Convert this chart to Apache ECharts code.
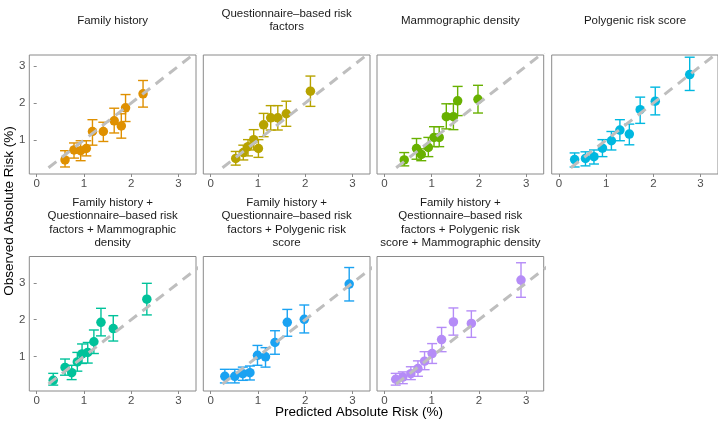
<!DOCTYPE html>
<html><head><meta charset="utf-8">
<script src="https://cdn.jsdelivr.net/npm/echarts@6/dist/echarts.min.js"></script>
<style>html,body{margin:0;padding:0;background:#fff}#c{width:718px;height:425px}</style>
</head><body><div id="c"></div>
<script>
// Panel titles
const panelTitles = [
  "Family history",
  "Questionnaire\u2013based risk\nfactors",
  "Mammographic density",
  "Polygenic risk score",
  "Family history +\nQuestionnaire\u2013based risk\nfactors + Mammographic\ndensity",
  "Family history +\nQuestionnaire\u2013based risk\nfactors + Polygenic risk\nscore",
  "Family history +\nQestionnaire\u2013based risk\nfactors + Polygenic risk\nscore + Mammographic density"
];
const panelColors = ["#DF9000","#B7A300","#68B100","#00B8E0","#00C29A","#1AA2F2","#B58CF7"];

// Family history
const p1Pred = [0.60,0.79,0.93,1.05,1.18,1.41,1.64,1.79,1.88,2.25];
const p1Obs  = [0.46,0.73,0.71,0.77,1.23,1.23,1.52,1.38,1.87,2.25];
const p1Lo   = [0.27,0.51,0.44,0.57,0.86,0.96,1.19,1.05,1.50,1.89];
const p1Hi   = [0.71,0.92,0.98,0.98,1.55,1.48,1.86,1.71,2.23,2.61];
// Questionnaire-based risk factors
const p2Pred = [0.53,0.69,0.79,0.91,1.01,1.12,1.27,1.42,1.60,2.11];
const p2Obs  = [0.50,0.66,0.82,1.01,0.77,1.41,1.60,1.60,1.71,2.32];
const p2Lo   = [0.32,0.46,0.57,0.73,0.53,1.09,1.27,1.27,1.37,1.91];
const p2Hi   = [0.69,0.86,1.01,1.28,1.01,1.72,1.93,1.93,2.05,2.73];
// Mammographic density
const p3Pred = [0.42,0.68,0.78,0.93,1.05,1.16,1.31,1.46,1.55,1.98];
const p3Obs  = [0.46,0.77,0.61,0.80,1.07,1.07,1.63,1.63,2.06,2.10];
const p3Lo   = [0.30,0.48,0.44,0.55,0.82,0.82,1.30,1.28,1.66,1.73];
const p3Hi   = [0.66,1.04,0.76,1.07,1.36,1.36,1.98,1.98,2.45,2.48];
// Polygenic risk score
const p4Pred = [0.33,0.56,0.74,0.92,1.11,1.29,1.49,1.72,2.04,2.77];
const p4Obs  = [0.47,0.50,0.55,0.78,0.98,1.27,1.16,1.82,2.05,2.77];
const p4Lo   = [0.27,0.30,0.35,0.55,0.73,0.98,0.87,1.45,1.68,2.34];
const p4Hi   = [0.65,0.68,0.73,1.01,1.23,1.55,1.43,2.16,2.43,3.24];
// FH + QRF + MD
const p5Pred = [0.35,0.60,0.74,0.86,0.96,1.08,1.21,1.36,1.62,2.33];
const p5Obs  = [0.35,0.70,0.56,0.85,1.07,1.11,1.40,1.93,1.76,2.56];
const p5Lo   = [0.22,0.49,0.37,0.60,0.81,0.82,1.08,1.56,1.42,2.13];
const p5Hi   = [0.54,0.93,0.76,1.11,1.34,1.38,1.72,2.31,2.11,2.99];
// FH + QRF + PRS
const p6Pred = [0.30,0.51,0.68,0.83,0.99,1.16,1.36,1.62,1.98,2.93];
const p6Obs  = [0.46,0.46,0.53,0.56,1.03,0.99,1.38,1.93,2.01,2.97];
const p6Lo   = [0.28,0.28,0.35,0.36,0.76,0.71,1.06,1.55,1.64,2.51];
const p6Hi   = [0.65,0.65,0.71,0.74,1.30,1.24,1.70,2.28,2.40,3.42];
// FH + QRF + PRS + MD
const p7Pred = [0.24,0.39,0.56,0.71,0.85,1.01,1.21,1.46,1.84,2.89];
const p7Obs  = [0.38,0.44,0.53,0.67,0.87,1.08,1.46,1.94,1.90,3.08];
const p7Lo   = [0.22,0.26,0.37,0.46,0.64,0.81,1.13,1.58,1.52,2.61];
const p7Hi   = [0.54,0.58,0.72,0.88,1.13,1.35,1.79,2.32,2.24,3.55];

const xTicks = [0,1,2,3];
const yTicks = [1,2,3];
const diagRange = [0.25, 3.45];

const panels = [
  [p1Pred,p1Obs,p1Lo,p1Hi],[p2Pred,p2Obs,p2Lo,p2Hi],[p3Pred,p3Obs,p3Lo,p3Hi],[p4Pred,p4Obs,p4Lo,p4Hi],
  [p5Pred,p5Obs,p5Lo,p5Hi],[p6Pred,p6Obs,p6Lo,p6Hi],[p7Pred,p7Obs,p7Lo,p7Hi]
];

const lefts = [29.3, 203.3, 377, 551.7];
const panelW = 166.7;
const rowTop = [55, 256.5];
const rowH = [119, 134.5];
const rowYMin = [0.08, 0.06];
const rowYMax = [3.30, 3.72];
const xMin = -0.156, xMax = 3.37;
const titleCY = [20.5, 223];
const titleLH = 13.5;

const grids = [], xAxes = [], yAxes = [], series = [], titles = [];
panels.forEach((p, i) => {
  const row = i < 4 ? 0 : 1;
  const col = i < 4 ? i : i - 4;
  grids.push({left: lefts[col], top: rowTop[row], width: panelW, height: rowH[row],
    show: true, borderColor: '#8a8a8a', borderWidth: 1, backgroundColor: '#fff', containLabel: false});
  xAxes.push({type: 'value', gridIndex: i, min: xMin, max: xMax,
    axisLine: {show: false}, splitLine: {show: false},
    axisTick: {show: true, length: 3, customValues: xTicks, lineStyle: {color: '#8a8a8a'}},
    axisLabel: {show: true, customValues: xTicks, margin: 4, color: '#4D4D4D', fontSize: 11.5,
      fontFamily: 'Liberation Sans, Arial, sans-serif'}});
  yAxes.push({type: 'value', gridIndex: i, min: rowYMin[row], max: rowYMax[row],
    axisLine: {show: false}, splitLine: {show: false},
    axisTick: {show: col === 0, length: 3, customValues: yTicks, lineStyle: {color: '#8a8a8a'}},
    axisLabel: {show: col === 0, customValues: yTicks, margin: 4, color: '#4D4D4D', fontSize: 11.5,
      fontFamily: 'Liberation Sans, Arial, sans-serif'}});
  const lines = panelTitles[i].split('\n').length;
  titles.push({text: panelTitles[i], left: lefts[col] + panelW / 2, textAlign: 'center',
    top: titleCY[row] - lines * titleLH / 2, padding: 0,
    textStyle: {fontSize: 11.5, fontWeight: 'normal', color: '#1a1a1a', lineHeight: titleLH,
      fontFamily: 'Liberation Sans, Arial, sans-serif'}});
  const color = panelColors[i];
  const errData = p[0].map((x, k) => [x, p[2][k], p[3][k]]);
  series.push({type: 'custom', xAxisIndex: i, yAxisIndex: i, z: 2, data: errData,
    renderItem: function (params, api) {
      const a = api.coord([api.value(0), api.value(1)]);
      const b = api.coord([api.value(0), api.value(2)]);
      const hw = 5;
      const st = {stroke: color, lineWidth: 1.4, fill: null};
      return {type: 'group', children: [
        {type: 'line', shape: {x1: a[0], y1: a[1], x2: b[0], y2: b[1]}, style: st},
        {type: 'line', shape: {x1: a[0]-hw, y1: a[1], x2: a[0]+hw, y2: a[1]}, style: st},
        {type: 'line', shape: {x1: b[0]-hw, y1: b[1], x2: b[0]+hw, y2: b[1]}, style: st}
      ]};
    }});
  series.push({type: 'scatter', xAxisIndex: i, yAxisIndex: i, z: 3, symbolSize: 9.5,
    itemStyle: {color: color, opacity: 1},
    data: p[0].map((x, k) => [x, p[1][k]])});
  series.push({type: 'line', xAxisIndex: i, yAxisIndex: i, z: 4, clip: true, symbol: 'none',
    lineStyle: {color: '#BEBEBE', width: 3, type: [10, 7]},
    data: diagRange.map(v => [v, v])});
});

const chart = echarts.init(document.getElementById('c'), null, {renderer: 'canvas'});
chart.setOption({
  animation: false,
  backgroundColor: '#fff',
  title: titles,
  grid: grids, xAxis: xAxes, yAxis: yAxes, series: series,
  graphic: [
    {type: 'text', left: 'center', x: 0, top: 405, style: {text: 'Predicted Absolute Risk (%)',
      fontSize: 13.5, fill: '#000', fontFamily: 'Liberation Sans, Arial, sans-serif'}},
    {type: 'text', x: 2, y: 211, rotation: Math.PI / 2, style: {text: 'Observed Absolute Risk (%)',
      fontSize: 13.5, fill: '#000', align: 'center', verticalAlign: 'top',
      fontFamily: 'Liberation Sans, Arial, sans-serif'}}
  ]
});
</script></body></html>
